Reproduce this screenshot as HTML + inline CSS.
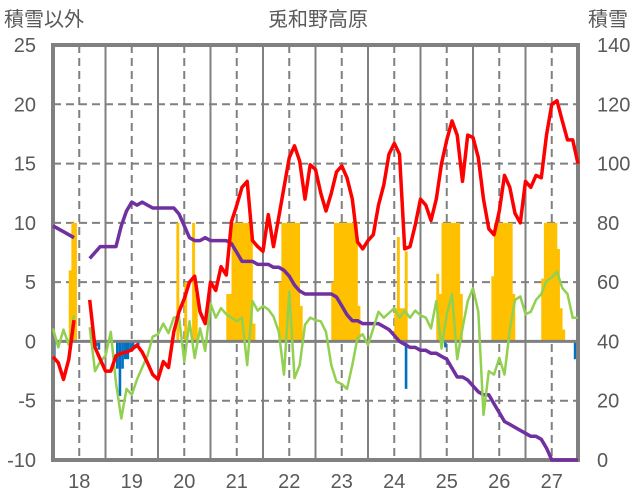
<!DOCTYPE html>
<html><head><meta charset="utf-8">
<style>
html,body{margin:0;padding:0;background:#fff;}
svg{display:block;font-family:"Liberation Sans","Noto Sans CJK JP",sans-serif;}
</style></head>
<body>
<svg id="chart" width="636" height="501" viewBox="0 0 636 501" xmlns="http://www.w3.org/2000/svg">
<text x="318" y="26" font-size="20" fill="#595959" text-anchor="middle">兎和野高原</text>
<text x="4" y="26" font-size="20" fill="#595959">積雪以外</text>
<text x="588" y="26" font-size="20" fill="#595959">積雪</text>
<g id="grid"></g>
<g id="bars"></g>
<g id="frame"></g>
<g id="lines"></g>
<g id="ticks"></g>
</svg>
<script>
const times = [];
for (let i = 0; i <= 100; i++) times.push(17.5 + i * 0.1);
const redVals = [-1.3,-1.8,-3.2,-1.5,1.8,null,null,3.5,-0.5,-1.5,-2.5,-2.5,-1.2,-1.0,-0.9,-0.7,-0.3,-0.9,-1.8,-2.8,-3.2,-1.7,-2.2,0.8,2.5,3.6,5.0,5.5,2.5,1.5,5.0,4.3,6.3,5.6,10.1,11.5,13.0,13.5,8.5,8.0,7.6,10.7,8.0,10.5,13.0,15.5,16.5,15.2,12.0,14.9,14.5,12.5,11.0,12.5,14.3,14.8,13.8,12.0,8.4,7.8,8.5,9.0,11.5,13.2,15.8,16.7,15.8,7.8,8.0,9.8,12.0,11.5,10.2,12.0,15.0,17.0,18.6,17.4,13.5,17.4,17.2,15.5,12.0,9.5,9.0,11.0,14.0,13.0,10.8,10.0,13.5,13.0,14.0,13.8,17.4,20.0,20.3,18.6,17.0,17.0,15.0];
const greenVals = [1.1,-0.5,1.0,-0.3,2.2,null,null,1.2,-2.5,-1.7,-1.2,0.8,-3.5,-6.5,-4.0,-4.5,-3.2,-2.2,-1.2,0.4,0.6,1.5,0.7,2.0,2.1,-1.7,1.7,-1.4,1.1,-0.8,3.2,2.0,2.8,2.3,2.0,1.7,2.0,-2.0,3.4,2.6,3.0,2.7,2.1,0.8,-2.8,4.2,-3.1,-2.0,1.4,2.0,1.8,1.7,0.8,-2.0,-3.4,-3.6,-4.0,-2.0,0.3,0.6,-0.3,1.1,2.5,2.0,2.4,2.8,2.0,2.6,2.0,2.6,2.2,2.0,1.1,3.4,-0.6,2.3,4.0,-1.5,1.1,3.4,4.5,2.5,-6.2,-2.5,-2.8,-1.4,-2.8,1.0,3.5,3.8,2.3,2.5,3.5,4.0,5.1,5.4,5.9,4.5,4.0,2.0,2.0];
const snowVals = [79,78,77,76,75,null,null,68,70,72,72,72,72,79,84,87,86,87,86,85,85,85,85,85,83,79,75,74,74,75,74,74,74,74,73,70,67,67,67,66,66,66,65,65,64,62,59,57,56,56,56,56,56,56,55,52,49,47,47,46,46,46,46,45,44,42,40,39,38,38,37,37,36,36,35,34,31,28,28,27,25,23,22,22,19,16,13,12,11,10,9,8,8,7,4,0,0,0,0,0,0];
const precipT = [17.8,17.85,17.9,18.2,19.85,20.0,20.15,20.2,20.8,20.85,20.9,20.95,21.0,21.05,21.1,21.15,21.2,21.25,21.3,21.8,21.85,21.9,21.95,22.0,22.05,22.1,22.15,22.2,22.8,22.85,22.9,22.95,23.0,23.05,23.1,23.15,23.2,23.25,23.3,24.0,24.05,24.1,24.15,24.2,24.8,24.85,24.9,24.95,25.0,25.05,25.1,25.15,25.2,25.25,25.85,25.9,25.95,26.0,26.05,26.1,26.15,26.2,26.25,26.8,26.85,26.9,26.95,27.0,27.05,27.1,27.15,27.2];
const precipV = [6,10,10,1,10,5,10,4,4,4,10,10,10,10,10,10,10,10,1.5,5,10,10,10,10,10,10,10,3,5,10,10,10,10,10,10,10,10,10,3,2.8,8.8,2.8,2.8,7.6,5.7,4,10,10,10,10,10,10,10,4,5.5,10,10,10,10,10,10,10,4,5.3,10,10,10,10,10,7.8,2.8,1];
const negT = [17.5,18.3,18.35,18.7,18.75,18.8,18.85,18.9,18.95,19.0,19.1,24.2,24.95,27.42];
const negV = [-1.5,-0.4,-0.7,-2.3,-4.6,-2.3,-1.5,-1.5,-0.8,-0.5,-0.3,-4.0,-0.5,-1.5];
const leftTicks = [25,20,15,10,5,0,-5,-10];
const rightTicks = [140,120,100,80,60,40,20,0];
const dayTicks = [18,19,20,21,22,23,24,25,26,27];

const X0 = 53, X1 = 578, Y0 = 45, Y1 = 460;
const tMin = 17.5, tMax = 27.5, lMin = -10, lMax = 25, rMin = 0, rMax = 140;
const xs = t => X0 + (t - tMin) / (tMax - tMin) * (X1 - X0);
const yl = v => Y1 - (v - lMin) / (lMax - lMin) * (Y1 - Y0);
const yr = v => Y1 - (v - rMin) / (rMax - rMin) * (Y1 - Y0);
const NS = "http://www.w3.org/2000/svg";
function mk(tag, attrs, parent) {
  const e = document.createElementNS(NS, tag);
  for (const k in attrs) e.setAttribute(k, attrs[k]);
  parent.appendChild(e);
  return e;
}
const grid = document.getElementById('grid');
const bars = document.getElementById('bars');
const lines = document.getElementById('lines');
const frame = document.getElementById('frame');
const ticks = document.getElementById('ticks');

leftTicks.forEach(v => {
  if (v === 0 || v === lMax || v === lMin) return;
  const g = mk('line', {x1: X0, x2: X1, y1: yl(v), y2: yl(v), stroke: '#808080', 'stroke-width': 2, 'stroke-dasharray': '8,5'}, grid);
  
  
});
for (let d = 18.5; d < tMax; d += 1) {
  const g = mk('line', {x1: xs(d), x2: xs(d), y1: Y0, y2: Y1, stroke: '#808080', 'stroke-width': 2}, grid);
  
  
}
dayTicks.forEach(d => {
  const g = mk('line', {x1: xs(d), x2: xs(d), y1: Y0, y2: Y1, stroke: '#808080', 'stroke-width': 2, 'stroke-dasharray': '8,5'}, grid);
  
  
});

const bw = 0.05;
precipT.forEach((t, i) => {
  const v = precipV[i];
  const b = mk('rect', {x: xs(t), y: yl(v), width: xs(t + bw) - xs(t) + 0.3, height: yl(0) - yl(v), fill: '#FFC000'}, bars);
  
  
});
negT.forEach((t, i) => {
  const v = negV[i];
  const b = mk('rect', {x: xs(t), y: yl(0), width: xs(t + bw) - xs(t), height: yl(v) - yl(0), fill: '#0070C0'}, bars);
  
  
});

function pathFor(vals, yf) {
  let d = '', pen = false;
  vals.forEach((v, i) => {
    if (v === null || i >= times.length) { pen = false; return; }
    d += (pen ? 'L' : 'M') + xs(times[i]).toFixed(1) + ',' + yf(v).toFixed(1);
    pen = true;
  });
  return d;
}

const zl = mk('line', {x1: X0, x2: X1, y1: yl(0), y2: yl(0), stroke: '#808080', 'stroke-width': 3}, frame);


const fr = mk('rect', {x: X0, y: Y0, width: X1 - X0, height: Y1 - Y0, fill: 'none', stroke: '#808080', 'stroke-width': 4}, frame);



const ps = mk('path', {d: pathFor(snowVals, yr), fill: 'none', stroke: '#7030A0', 'stroke-width': 3.5, 'stroke-linejoin': 'round'}, lines);


const pg = mk('path', {d: pathFor(greenVals, yl), fill: 'none', stroke: '#92D050', 'stroke-width': 2.5, 'stroke-linejoin': 'round'}, lines);


const pr = mk('path', {d: pathFor(redVals, yl), fill: 'none', stroke: '#FF0000', 'stroke-width': 3.5, 'stroke-linejoin': 'round'}, lines);



leftTicks.forEach(v => {
  const t = mk('text', {x: 36, y: yl(v) + 7, 'font-size': 20, fill: '#595959', 'text-anchor': 'end'}, ticks);
  t.textContent = v;
  
  
});
rightTicks.forEach(v => {
  const t = mk('text', {x: 597, y: yr(v) + 7, 'font-size': 20, fill: '#595959'}, ticks);
  t.textContent = v;
  
  
});
dayTicks.forEach(d => {
  const t = mk('text', {x: xs(d), y: 488, 'font-size': 20, fill: '#595959', 'text-anchor': 'middle'}, ticks);
  t.textContent = d;
  
  
});
</script>
</body></html>
